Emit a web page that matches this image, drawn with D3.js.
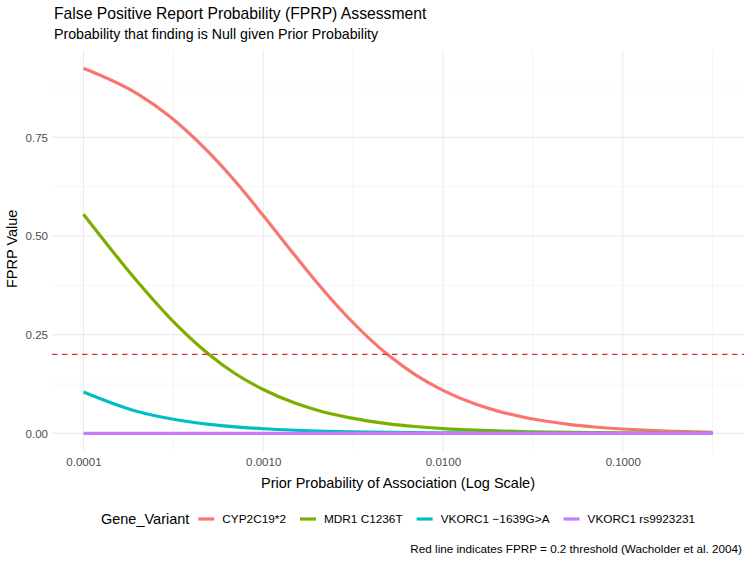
<!DOCTYPE html>
<html>
<head>
<meta charset="utf-8">
<script src="https://cdn.jsdelivr.net/npm/d3@7"></script>
<style>
  body { margin: 0; background: #fff; }
  text { font-family: "Liberation Sans", Arial, sans-serif; }
</style>
</head>
<body>
<svg id="fig_fprp" width="750" height="562"></svg>
<script>
// priors (log spaced) and FPRP
var priors = [0.0001, 0.0002, 0.0003, 0.0005, 0.0007, 0.001, 0.0015, 0.002, 0.003, 0.005, 0.007,
              0.01, 0.015, 0.02, 0.03, 0.05, 0.07, 0.1, 0.15, 0.2, 0.316];
var cyp2c19 = [0.925, 0.860, 0.804, 0.711, 0.638, 0.552, 0.451, 0.381, 0.291, 0.197, 0.149,
               0.109, 0.0749, 0.0570, 0.0383, 0.0229, 0.0161, 0.0110, 0.0069, 0.0049, 0.0027];
var mdr1 = [0.555, 0.384, 0.294, 0.200, 0.151, 0.111, 0.0766, 0.0586, 0.0398, 0.0242, 0.0174,
            0.0122, 0.0081, 0.0061, 0.0040, 0.0024, 0.0017, 0.0011, 0.0007, 0.0005, 0.0003];
var vkorc1_1639 = [0.105, 0.0554, 0.0376, 0.0229, 0.0165, 0.0116, 0.0078, 0.0058, 0.0039, 0.0023, 0.0017,
                   0.0012, 0.0008, 0.0006, 0.0004, 0.0002, 0.0002, 0.0001, 0.0001, 0.0001, 0.0000];
var vkorc1_rs = [0, 0, 0, 0, 0, 0, 0, 0, 0, 0, 0,
                 0, 0, 0, 0, 0, 0, 0, 0, 0, 0];
var variants = ["CYP2C19*2", "MDR1 C1236T", "VKORC1 \u22121639G>A", "VKORC1 rs9923231"];
var seriesValues = [cyp2c19, mdr1, vkorc1_1639, vkorc1_rs];
var colors = ["#F8766D", "#7CAE00", "#00BFC4", "#C77CFF"];
var xTicks = [0.0001, 0.001, 0.01, 0.1];
var xTickLabels = ["0.0001", "0.0010", "0.0100", "0.1000"];
var yTicks = [0, 0.25, 0.5, 0.75];
var threshold = 0.2;

(function fig_fprp() {
  var svg = d3.select("#fig_fprp"),
      left = 52, right = 744, top = 50, bottom = 451.6;

  // ggplot style 5% expansion
  var lx = d3.extent(priors, function(d) { return Math.log10(d); }),
      ex = (lx[1] - lx[0]) * 0.05;
  var x = d3.scaleLog()
      .domain([Math.pow(10, lx[0] - ex), Math.pow(10, lx[1] + ex)])
      .range([left, right]);

  var all = d3.merge(seriesValues),
      ymin = d3.min(all), ymax = d3.max(all),
      ey = (ymax - ymin) * 0.05;
  var y = d3.scaleLinear()
      .domain([ymin - ey, ymax + ey])
      .range([bottom, top]);

  var grid = svg.append("g");
  // minor grid
  var xMinor = [xTicks[0] / Math.sqrt(10)].concat(xTicks.map(function(t) { return t * Math.sqrt(10); }));
  grid.selectAll(".xminor").data(xMinor.filter(function(d) { return d >= x.domain()[0] && d <= x.domain()[1]; }))
    .enter().append("line")
      .attr("x1", function(d) { return x(d); }).attr("x2", function(d) { return x(d); })
      .attr("y1", top).attr("y2", bottom)
      .attr("stroke", "#EBEBEB").attr("stroke-width", 0.55);
  var yMinor = yTicks.map(function(t) { return t + 0.125; });
  grid.selectAll(".yminor").data(yMinor.filter(function(d) { return d <= y.domain()[1]; }))
    .enter().append("line")
      .attr("x1", left).attr("x2", right)
      .attr("y1", function(d) { return y(d); }).attr("y2", function(d) { return y(d); })
      .attr("stroke", "#EBEBEB").attr("stroke-width", 0.55);
  // major grid
  grid.selectAll(".xmajor").data(xTicks)
    .enter().append("line")
      .attr("x1", function(d) { return x(d); }).attr("x2", function(d) { return x(d); })
      .attr("y1", top).attr("y2", bottom)
      .attr("stroke", "#EBEBEB").attr("stroke-width", 1.1);
  grid.selectAll(".ymajor").data(yTicks)
    .enter().append("line")
      .attr("x1", left).attr("x2", right)
      .attr("y1", function(d) { return y(d); }).attr("y2", function(d) { return y(d); })
      .attr("stroke", "#EBEBEB").attr("stroke-width", 1.1);

  // axes, labels only
  var xAxis = svg.append("g")
      .attr("transform", "translate(0," + bottom + ")")
      .call(d3.axisBottom(x).tickValues(xTicks).tickSize(0).tickPadding(6)
        .tickFormat(function(d, i) { return xTickLabels[i]; }));
  var yAxis = svg.append("g")
      .attr("transform", "translate(" + left + ",0)")
      .call(d3.axisLeft(y).tickValues(yTicks).tickSize(0).tickPadding(4)
        .tickFormat(d3.format(".2f")));
  [xAxis, yAxis].forEach(function(a) {
    a.select(".domain").remove();
    a.selectAll("text").attr("fill", "#4D4D4D").style("font-size", "11.5px")
      .style("font-family", "'Liberation Sans', Arial, sans-serif");
  });

  // curves
  var line = d3.line()
      .x(function(d) { return x(d[0]); })
      .y(function(d) { return y(d[1]); })
      .curve(d3.curveMonotoneX);
  seriesValues.forEach(function(vals, i) {
    svg.append("path")
      .datum(priors.map(function(p, j) { return [p, vals[j]]; }))
      .attr("d", line)
      .attr("fill", "none")
      .attr("stroke", colors[i])
      .attr("stroke-width", 3.2)
      .attr("stroke-linecap", "butt");
  });

  // threshold
  svg.append("line")
    .attr("x1", left).attr("x2", right)
    .attr("y1", y(threshold)).attr("y2", y(threshold))
    .attr("stroke", "#DC3035").attr("stroke-width", 1.4)
    .attr("stroke-dasharray", "5.5,4.5");

  // titles
  svg.append("text").attr("x", 54).attr("y", 19).text("False Positive Report Probability (FPRP) Assessment")
    .style("font-size", "15.7px").attr("fill", "#000");
  svg.append("text").attr("x", 54).attr("y", 39).text("Probability that finding is Null given Prior Probability")
    .style("font-size", "14.2px").attr("fill", "#000");
  svg.append("text").attr("x", (left + right) / 2).attr("y", 488).attr("text-anchor", "middle")
    .text("Prior Probability of Association (Log Scale)").style("font-size", "14.5px");
  svg.append("text").attr("transform", "translate(17," + ((top + bottom) / 2 - 2) + ") rotate(-90)")
    .attr("text-anchor", "middle").text("FPRP Value").style("font-size", "14.5px");
  svg.append("text").attr("x", 742).attr("y", 553).attr("text-anchor", "end")
    .text("Red line indicates FPRP = 0.2 threshold (Wacholder et al. 2004)").style("font-size", "11.7px");

  // legend
  var lg = svg.append("g"), cy = 519, cx = 0;
  var lt = lg.append("text").attr("x", cx).attr("y", cy + 5).text("Gene_Variant").style("font-size", "14.5px");
  cx += lt.node().getComputedTextLength() + 9;
  variants.forEach(function(v, i) {
    lg.append("line").attr("x1", cx).attr("x2", cx + 16).attr("y1", cy).attr("y2", cy)
      .attr("stroke", colors[i]).attr("stroke-width", 3.2);
    cx += 16 + 8;
    var t = lg.append("text").attr("x", cx).attr("y", cy + 4).text(v).style("font-size", "11.8px");
    cx += t.node().getComputedTextLength() + 14;
  });
  cx -= 14;
  lg.attr("transform", "translate(" + ((left + right) / 2 - cx / 2) + ",0)");
})();
</script>
</body>
</html>
